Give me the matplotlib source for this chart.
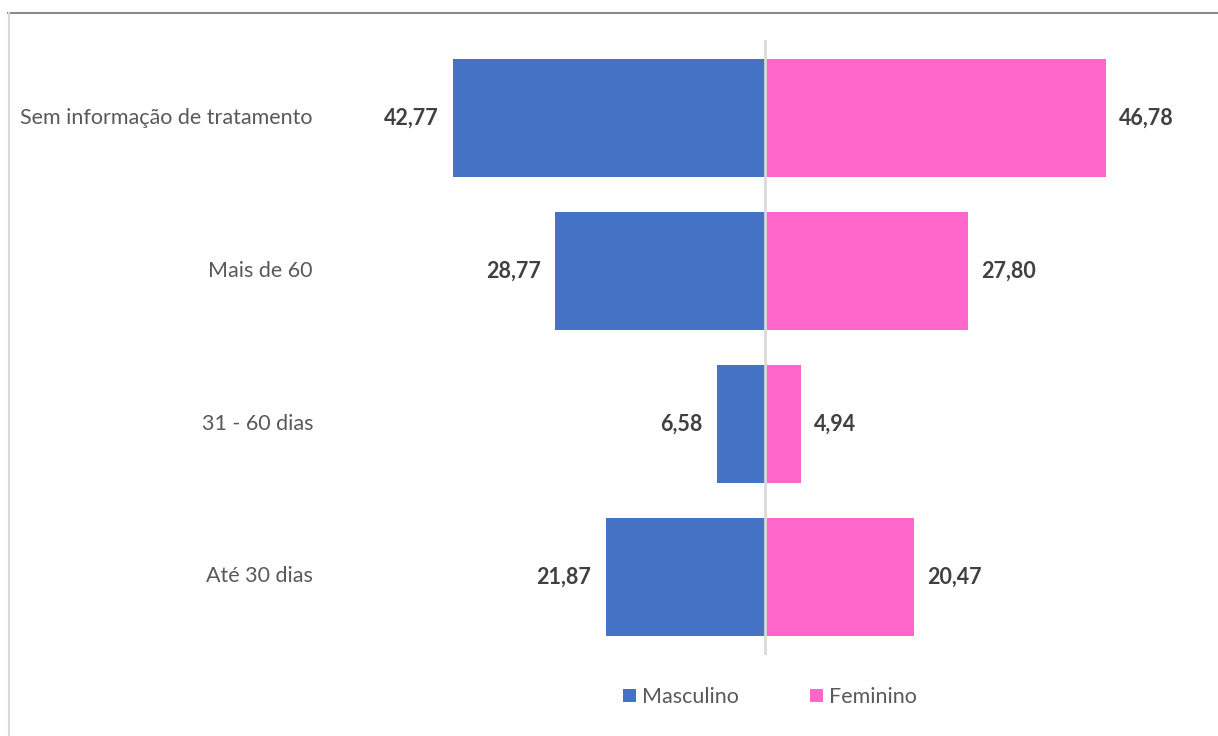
import matplotlib
matplotlib.use("Agg")
import matplotlib.pyplot as plt
from matplotlib.patches import Patch
from matplotlib.lines import Line2D

categories = ["Até 30 dias", "31 - 60 dias", "Mais de 60", "Sem informação de tratamento"]
masculino = [21.87, 6.58, 28.77, 42.77]
feminino = [20.47, 4.94, 27.80, 46.78]
labels_m = ["21,87", "6,58", "28,77", "42,77"]
labels_f = ["20,47", "4,94", "27,80", "46,78"]

blue = "#4472C4"
pink = "#FF66CC"
txt = "#595959"
plt.rcParams['font.family'] = ['Lato', 'DejaVu Sans']

W, H = 1218, 736
fig = plt.figure(figsize=(W/100, H/100), dpi=100)
ax = fig.add_axes([340/W, 1-655/H, (1190-340)/W, (655-40)/H])

ypos = list(range(len(categories)))
ax.barh(ypos, [-v for v in masculino], height=0.77, color=blue, zorder=2)
ax.barh(ypos, feminino, height=0.77, color=pink, zorder=2)
ax.axvline(0, color="#D9D9D9", lw=2, zorder=3)
ax.set_xlim(-58.3, 58.3)
ax.set_ylim(-0.51, 3.51)
for s in ax.spines.values():
    s.set_visible(False)
ax.set_xticks([])
ax.set_yticks([])

for y, v, l in zip(ypos, masculino, labels_m):
    ax.text(-v - 2.0, y, l, ha="right", va="center", fontsize=15.5, fontweight="bold", color="#404040")
for y, v, l in zip(ypos, feminino, labels_f):
    ax.text(v + 1.8, y, l, ha="left", va="center", fontsize=15.5, fontweight="bold", color="#404040")

for y, c in zip(ypos, categories):
    fig.text(313/W, 1 - (118 + (3 - y) * 152.8)/H, c, ha="right", va="center", fontsize=15.5, color=txt)

handles = [Patch(facecolor=blue, label="Masculino"), Patch(facecolor=pink, label="Feminino")]
fig.legend(handles=handles, loc="center", bbox_to_anchor=(770/W, 1-697/H), ncol=2, frameon=False,
           fontsize=15.5, handlelength=0.6, handleheight=0.6, handletextpad=0.3, columnspacing=3.3,
           labelcolor=txt)

# border lines
fig.add_artist(Line2D([8/W, 1], [1-12.5/H, 1-12.5/H], color="#8C8C8C", lw=1.5, transform=fig.transFigure))
fig.add_artist(Line2D([8.5/W, 8.5/W], [0, 1-12.5/H], color="#D9D9D9", lw=1.5, transform=fig.transFigure))

fig.savefig("out.png", dpi=100)
